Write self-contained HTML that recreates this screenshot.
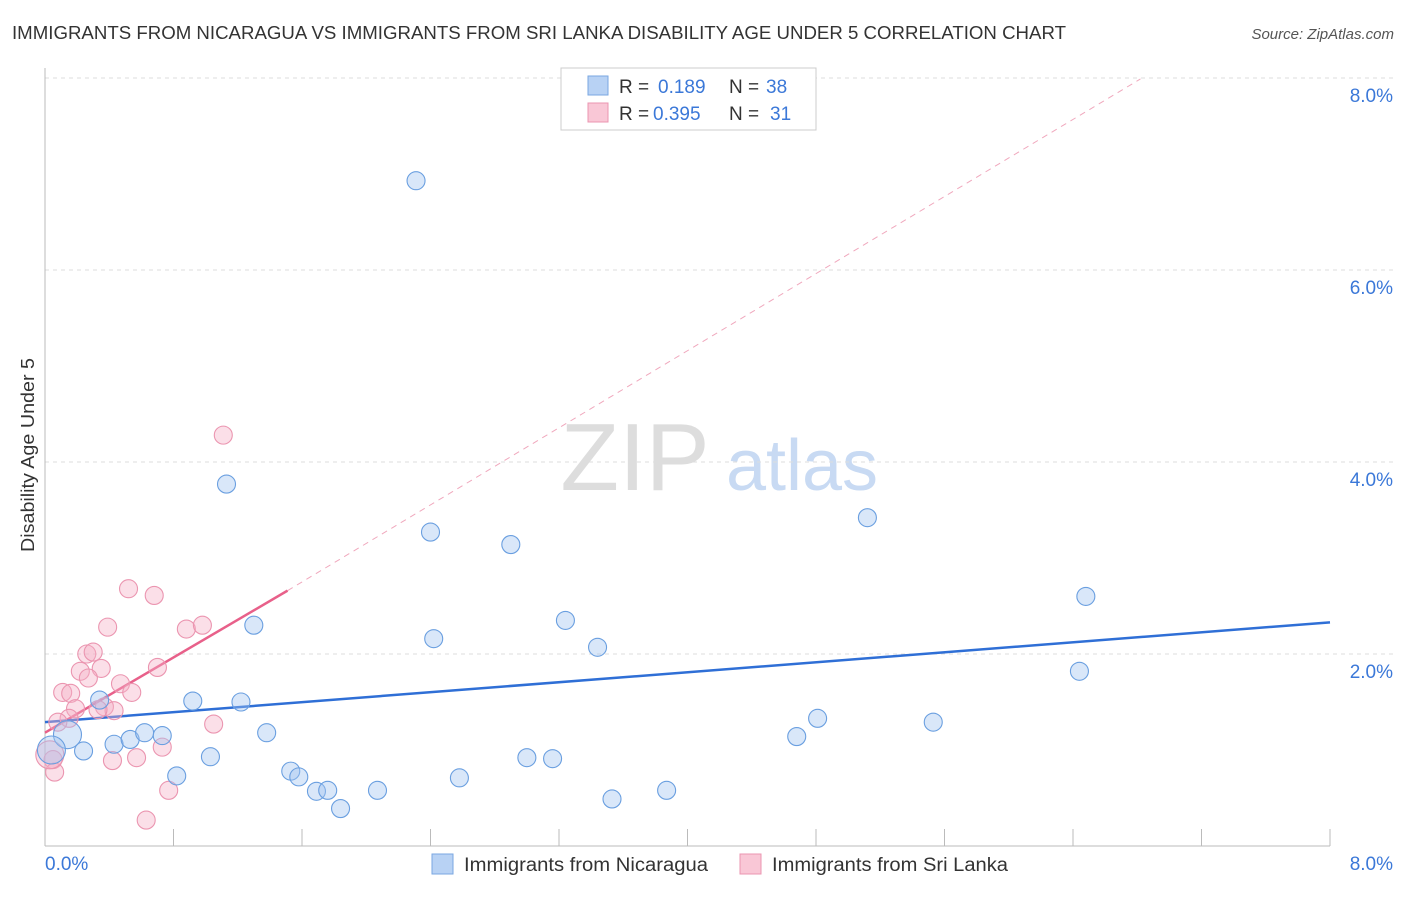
<!DOCTYPE html>
<html><head><meta charset="utf-8"><style>
body{margin:0;background:#fff;font-family:"Liberation Sans",sans-serif}
svg text{font-family:"Liberation Sans",sans-serif}
</style></head><body>
<svg id="chart" width="1406" height="892" xmlns="http://www.w3.org/2000/svg">
<text x="12" y="39" font-size="18" fill="#333" textLength="1054" lengthAdjust="spacingAndGlyphs">IMMIGRANTS FROM NICARAGUA VS IMMIGRANTS FROM SRI LANKA DISABILITY AGE UNDER 5 CORRELATION CHART</text>
<text x="1394" y="39" font-size="15" fill="#555" font-style="italic" text-anchor="end">Source: ZipAtlas.com</text>
<text x="34" y="455" font-size="18" fill="#333" text-anchor="middle" textLength="194" lengthAdjust="spacingAndGlyphs" transform="rotate(-90 34 455)">Disability Age Under 5</text>
<g><text x="635" y="490" font-size="96" fill="#ddd" font-family="Liberation Serif" text-anchor="middle">ZIP</text><text x="802" y="490" font-size="72" fill="#c8daf3" text-anchor="middle">atlas</text></g>
<g id="grid"></g><g id="axes"></g><g id="trends"></g><g id="points"></g>
<g>
<rect x="561" y="68" width="255" height="62" fill="#fff" stroke="#ccc"/>
<rect x="588" y="76" width="20" height="19" fill="#b8d2f4" stroke="#7aa7e2"/>
<text x="619" y="93" font-size="19" fill="#333">R = </text><text x="658" y="93" font-size="19" fill="#3b78d8">0.189</text>
<text x="729" y="93" font-size="19" fill="#333">N = </text><text x="766" y="93" font-size="19" fill="#3b78d8">38</text>
<rect x="588" y="103" width="20" height="19" fill="#f9c7d6" stroke="#eb95b0"/>
<text x="619" y="120" font-size="19" fill="#333">R = </text><text x="653" y="120" font-size="19" fill="#3b78d8">0.395</text>
<text x="729" y="120" font-size="19" fill="#333">N = </text><text x="770" y="120" font-size="19" fill="#3b78d8">31</text>
</g>
<g>
<rect x="432" y="854" width="21" height="20" fill="#b8d2f4" stroke="#7aa7e2"/>
<text x="464" y="871" font-size="19" fill="#333" textLength="244" lengthAdjust="spacingAndGlyphs">Immigrants from Nicaragua</text>
<rect x="740" y="854" width="21" height="20" fill="#f9c7d6" stroke="#eb95b0"/>
<text x="772" y="871" font-size="19" fill="#333" textLength="236" lengthAdjust="spacingAndGlyphs">Immigrants from Sri Lanka</text>
</g>
</svg>
<script>
const blueX=[2.31,1.13,2.40,2.90,5.12,6.48,1.30,2.42,3.24,3.44,6.44,0.34,0.92,1.22,4.81,5.53,4.68,0.14,0.04,0.24,0.43,0.53,0.62,0.73,1.38,1.03,0.82,1.53,1.58,1.69,1.76,1.84,2.07,2.58,3.00,3.16,3.53,3.87];
const blueY=[6.93,3.77,3.27,3.14,3.42,2.60,2.30,2.16,2.35,2.07,1.82,1.52,1.51,1.50,1.33,1.29,1.14,1.16,1.00,0.99,1.06,1.11,1.18,1.15,1.18,0.93,0.73,0.78,0.72,0.57,0.58,0.39,0.58,0.71,0.92,0.91,0.49,0.58];
const blueBig=[17,18];
const pinkX=[1.11,0.52,0.68,0.39,0.88,0.98,0.26,0.30,0.22,0.35,0.27,0.70,0.47,0.54,0.11,0.16,0.19,0.37,0.43,0.33,0.15,0.08,1.05,0.73,0.42,0.57,0.05,0.06,0.77,0.63,0.03];
const pinkY=[4.28,2.68,2.61,2.28,2.26,2.30,2.00,2.02,1.82,1.85,1.75,1.86,1.69,1.60,1.60,1.59,1.43,1.45,1.41,1.42,1.33,1.29,1.27,1.03,0.89,0.92,0.90,0.77,0.58,0.27,0.95];
const pinkBig=[30];
const yTicks=[2,4,6,8];
const yTickLabels=["2.0%","4.0%","6.0%","8.0%"];
const blueTrend=[[0,1.29],[8,2.33]];
const pinkTrendSolid=[[0,1.18],[1.51,2.66]];
const pinkTrendDash=[[1.51,2.66],[6.82,7.99]];
const NS="http://www.w3.org/2000/svg";
const X=v=>45+v*(1285/8), Y=v=>846-v*96;
function mk(tag,attrs,parent){const e=document.createElementNS(NS,tag);for(const k in attrs)e.setAttribute(k,attrs[k]);document.getElementById(parent).appendChild(e);return e;}
yTicks.forEach((t,i)=>{
  const g=mk('line',{x1:45,x2:1395,y1:Y(t),y2:Y(t),stroke:'#ddd','stroke-dasharray':'4,4'},'grid');
  
  
  const l=mk('text',{x:1393,y:Y(t)+24,'font-size':19,fill:'#3b78d8','text-anchor':'end'},'grid');
  l.textContent=yTickLabels[i];
  
  
});
let a=mk('line',{x1:45,x2:45,y1:68,y2:846,stroke:'#bbb'},'axes');


a=mk('line',{x1:45,x2:1330,y1:846,y2:846,stroke:'#bbb'},'axes');


for(let i=0;i<=10;i++){const t=mk('line',{x1:X(i*0.8),x2:X(i*0.8),y1:829,y2:846,stroke:'#bbb'},'axes');
  
  }
let xl=mk('text',{x:45,y:870,'font-size':19,fill:'#3b78d8'},'axes');xl.textContent='0.0%';


xl=mk('text',{x:1393,y:870,'font-size':19,fill:'#3b78d8','text-anchor':'end'},'axes');xl.textContent='8.0%';


function line(p,attrs,name){const l=mk('line',Object.assign({x1:X(p[0][0]),y1:Y(p[0][1]),x2:X(p[1][0]),y2:Y(p[1][1])},attrs),'trends');
  
  }
line(pinkTrendDash,{stroke:'#f0a8bd','stroke-width':1,'stroke-dasharray':'6,5'},'srilanka-trend-extension');
line(pinkTrendSolid,{stroke:'#e8608a','stroke-width':2.5},'srilanka-trend-line');
line(blueTrend,{stroke:'#2f6fd6','stroke-width':2.5},'nicaragua-trend-line');
function pts(xs,ys,big,fill,stroke,name){xs.forEach((x,i)=>{
  const c=mk('circle',{cx:X(x),cy:Y(ys[i]),r:big.includes(i)?14:9,fill:fill,stroke:stroke,'stroke-width':1.1},'points');
  
  });}
pts(pinkX,pinkY,pinkBig,'rgba(245,175,198,0.4)','#eb95b0','srilanka-point');
pts(blueX,blueY,blueBig,'rgba(160,196,240,0.4)','#6a9fe0','nicaragua-point');
</script>
</body></html>
